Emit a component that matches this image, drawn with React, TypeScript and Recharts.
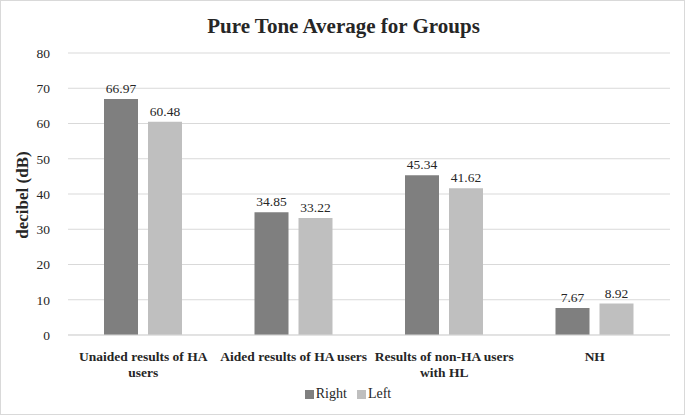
import React from "react";
import { BarChart, Bar, XAxis, YAxis, CartesianGrid, Legend, LabelList } from "recharts";

const categories = [
  "Unaided results of HA users",
  "Aided results of HA users",
  "Results of non-HA users with HL",
  "NH",
];
const tickLines = [
  ["Unaided results of HA", "users"],
  ["Aided results of HA users"],
  ["Results of non-HA users", "with HL"],
  ["NH"],
];
const rightValues = [66.97, 34.85, 45.34, 7.67];
const leftValues = [60.48, 33.22, 41.62, 8.92];
const yTicks = [0, 10, 20, 30, 40, 50, 60, 70, 80];
const seriesOrder = ["Right", "Left"];

const data = categories.map((c, i) => ({
  name: c,
  Right: rightValues[i],
  Left: leftValues[i],
}));

const FONT = "'Liberation Serif', 'Times New Roman', serif";

const CatTick = (props: any) => {
  const { x, y, payload } = props;
  const lines = tickLines[payload.index] || [payload.value];
  return (
    <text x={x} y={y} textAnchor="middle" fontFamily={FONT} fontSize={13.5} fontWeight="bold" fill="#262626">
      {lines.map((l, i) => (
        <tspan key={i} x={x} dy={i === 0 ? 18 : 16}>
          {l}
        </tspan>
      ))}
    </text>
  );
};

export default function App() {
  return (
    <div
      style={{
        position: "absolute",
        left: 0,
        top: 0,
        width: 685,
        height: 415,
        boxSizing: "border-box",
        border: "1px solid #d9d9d9",
        background: "#fff",
        fontFamily: FONT,
      }}
    >
      <div
        style={{
          position: "absolute",
          left: 0,
          top: 13,
          width: 685,
          textAlign: "center",
          fontSize: 21,
          fontWeight: "bold",
          color: "#262626",
        }}
      >
        Pure Tone Average for Groups
      </div>
      <div
        style={{
          position: "absolute",
          left: 22,
          top: 194,
          transform: "translate(-50%, -50%) rotate(-90deg)",
          fontSize: 17,
          fontWeight: "bold",
          color: "#262626",
          whiteSpace: "nowrap",
        }}
      >
        decibel (dB)
      </div>
      <div style={{ position: "absolute", left: -1, top: -1 }}>
        <BarChart
          width={685}
          height={415}
          data={data}
          margin={{ top: 53, right: 15, bottom: 0, left: 0 }}
          barSize={34}
          barGap={10}
        >
          <CartesianGrid vertical={false} stroke="#d9d9d9" strokeWidth={1} />
          <XAxis
            dataKey="name"
            tick={<CatTick />}
            tickLine={false}
            axisLine={{ stroke: "#d9d9d9" }}
            interval={0}
            height={64}
          />
          <YAxis
            width={68}
            domain={[0, 80]}
            ticks={yTicks}
            tickLine={false}
            axisLine={false}
            tickMargin={12}
            tick={{ fontFamily: FONT, fontSize: 13.5, fill: "#262626" }}
          />
          <Legend
            verticalAlign="bottom"
            align="center"
            iconType="square"
            iconSize={9}
            itemSorter={(item: any) => seriesOrder.indexOf(item.value)}
            wrapperStyle={{ bottom: 13, left: 18, fontFamily: FONT, fontSize: 14, lineHeight: "16px" }}
            formatter={(v: string) => <span style={{ color: "#262626", marginLeft: -2 }}>{v}</span>}
          />
          <Bar dataKey="Right" fill="#7f7f7f" isAnimationActive={false}>
            <LabelList dataKey="Right" position="top" offset={6} style={{ fontFamily: FONT, fontSize: 13.5, fill: "#262626" }} formatter={(v: number) => v.toFixed(2)} />
          </Bar>
          <Bar dataKey="Left" fill="#bfbfbf" isAnimationActive={false}>
            <LabelList dataKey="Left" position="top" offset={6} style={{ fontFamily: FONT, fontSize: 13.5, fill: "#262626" }} formatter={(v: number) => v.toFixed(2)} />
          </Bar>
        </BarChart>
      </div>
    </div>
  );
}
